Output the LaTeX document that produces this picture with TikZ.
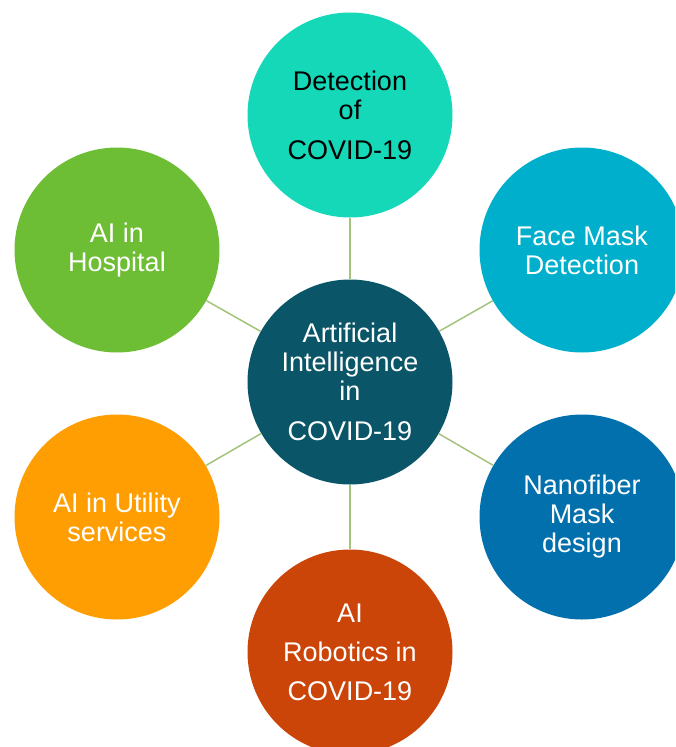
\documentclass[tikz,border=0pt]{standalone}
\usepackage{fontspec}
\setmainfont{Liberation Sans}
\definecolor{hubcol}{HTML}{0A5668}
\definecolor{detcol}{HTML}{14D8B8}
\definecolor{facecol}{HTML}{00AFCB}
\definecolor{hospcol}{HTML}{6EBE35}
\definecolor{utilcol}{HTML}{FF9E02}
\definecolor{nanocol}{HTML}{0270AC}
\definecolor{robocol}{HTML}{CB4408}
\definecolor{linkgreen}{HTML}{A3C37D}
\begin{document}
\begin{tikzpicture}[x=1pt,y=-1pt,
  bubble/.style={circle,minimum size=205pt,inner sep=0pt,align=center,
    font=\fontsize{27}{29}\selectfont,text=white},
  link/.style={draw=linkgreen,line width=1.5pt}]
\useasboundingbox (0,0) rectangle (675,747);
\clip (0,0) rectangle (675,747);
\node[bubble,fill=hubcol] (hub) at (350,382) {Artificial\\Intelligence\\in\\[11pt]COVID-19};
\node[bubble,fill=detcol,text=black] (det) at (350,115) {Detection\\of\\[11pt]COVID-19};
\node[bubble,fill=facecol] (face) at (582,250) {Face Mask\\Detection};
\node[bubble,fill=hospcol] (hosp) at (117,250) {AI in\\Hospital};
\node[bubble,fill=utilcol] (util) at (117,517) {AI in Utility\\services};
\node[bubble,fill=nanocol] (nano) at (582,517) {Nanofiber\\Mask\\design};
\node[bubble,fill=robocol] (robo) at (350,652) {AI\\[10pt]Robotics in\\[10pt]COVID-19};
\draw[link] (hub) -- (det);
\draw[link] (hub) -- (face);
\draw[link] (hub) -- (hosp);
\draw[link] (hub) -- (util);
\draw[link] (hub) -- (nano);
\draw[link] (hub) -- (robo);
\end{tikzpicture}
\end{document}
